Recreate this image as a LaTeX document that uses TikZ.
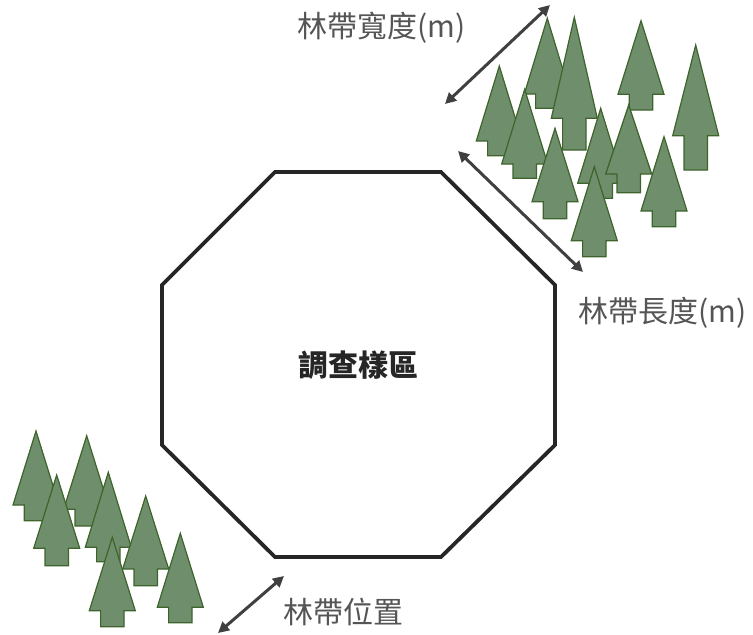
\documentclass[tikz,border=0pt]{standalone}
\usepackage{fontspec}
\setmainfont{Noto Sans CJK TC}
\usetikzlibrary{arrows.meta}

\definecolor{treefill}{RGB}{110,142,108}
\definecolor{treeline}{RGB}{62,100,44}
\definecolor{labelgray}{RGB}{85,85,85}
\definecolor{arrowgray}{RGB}{64,64,64}
\definecolor{plotline}{RGB}{38,38,38}

\tikzset{
  treeshape/.style={fill=treefill, draw=treeline, line width=1.2pt, line join=miter},
  plotedge/.style={draw=plotline, line width=3.8pt, line join=miter},
  dimarrow/.style={draw=arrowgray, line width=3pt,
    {Triangle[length=11pt,width=11pt]}-{Triangle[length=11pt,width=11pt]}},
  dimlabel/.style={text=labelgray, font=\fontsize{30}{34}\selectfont, inner sep=0pt, anchor=west},
  plotlabel/.style={text=plotline, font=\fontsize{30}{34}\selectfont\bfseries, inner sep=0pt}
}

% conifer: apex x, apex y, base of crown y, foot of trunk y
\newcommand\conifer[4]{%
  \filldraw[treeshape] (#1,#2) -- (#1+23,#3) -- (#1+11.7,#3) -- (#1+11.7,#4)
    -- (#1-11.7,#4) -- (#1-11.7,#3) -- (#1-23,#3) -- cycle;}

\begin{document}
\begin{tikzpicture}[x=1pt,y=-1pt]
\useasboundingbox (0,0) rectangle (753,635);

% sample plot outline
\coordinate (o1) at (275,172);
\coordinate (o2) at (441,172);
\coordinate (o3) at (555,285);
\coordinate (o4) at (555,445);
\coordinate (o5) at (441,557);
\coordinate (o6) at (275,557);
\coordinate (o7) at (162,445);
\coordinate (o8) at (162,285);
\draw[plotedge] (o1) -- (o2) -- (o3) -- (o4) -- (o5) -- (o6) -- (o7) -- (o8) -- cycle;
\node[plotlabel] (plot) at (358.5,365) {調查樣區};

% forest belt, upper right
\conifer{547.3}{18.3}{94}{108.3}
\conifer{574.3}{17.3}{118.3}{150}
\conifer{641}{20.7}{94.3}{110}
\conifer{695.7}{45}{135.7}{170}
\conifer{499.3}{66}{141}{155.7}
\conifer{524.7}{89.3}{164}{178.3}
\conifer{600.7}{108.3}{183.3}{198.3}
\conifer{628.7}{105}{174}{192.7}
\conifer{555}{128.3}{201.7}{218.7}
\conifer{664}{136.7}{211}{226.7}
\conifer{594.3}{166.7}{240.7}{256.7}

% forest belt, lower left
\conifer{36}{431}{505}{520.7}
\conifer{86.7}{435.7}{509.3}{526}
\conifer{56.7}{475}{548.3}{565.7}
\conifer{108.3}{472.3}{547.3}{561.7}
\conifer{145.7}{496}{569}{585.7}
\conifer{112.3}{537.3}{610.7}{626.7}
\conifer{180.3}{533.3}{607.3}{622.7}

% dimension arrows
\coordinate (w1) at (445,104);
\coordinate (w2) at (550,5);
\coordinate (l1) at (458,151);
\coordinate (l2) at (583,272);
\coordinate (p1) at (218,633);
\coordinate (p2) at (284,576);
\draw[dimarrow] (w1) -- (w2);
\draw[dimarrow] (l1) -- (l2);
\draw[dimarrow] (p1) -- (p2);

% labels
\node[dimlabel] (width) at (297,28) {林帶寬度(m)};
\node[dimlabel] (length) at (578,313) {林帶長度(m)};
\node[dimlabel] (position) at (283,612) {林帶位置};
\end{tikzpicture}
\end{document}
